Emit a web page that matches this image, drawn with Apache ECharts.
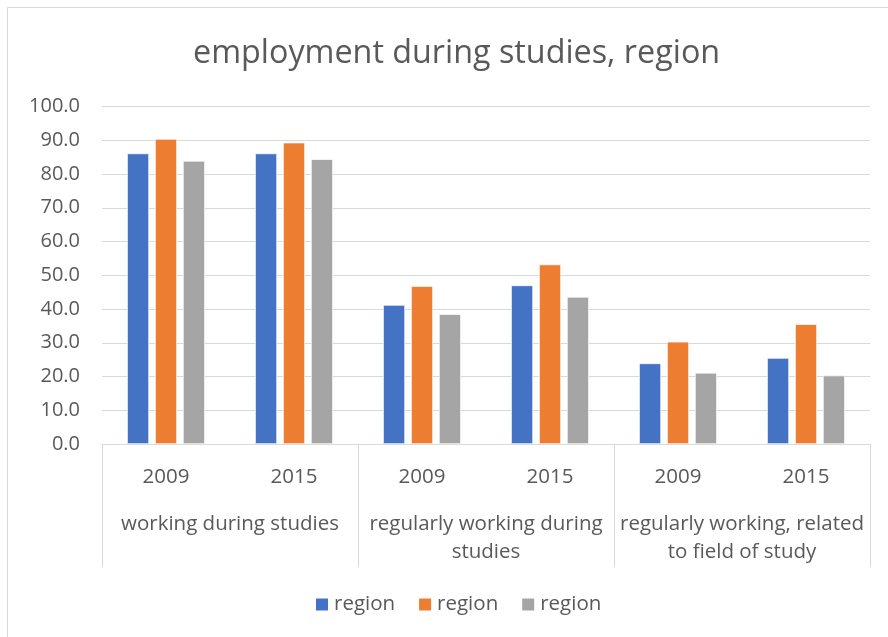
<!DOCTYPE html>
<html>
<head>
<meta charset="utf-8">
<script src="https://cdn.jsdelivr.net/npm/echarts@6/dist/echarts.min.js"></script>
<style>
html,body{margin:0;padding:0;background:#fff;}
#chart{width:888px;height:637px;}
</style>
</head>
<body>
<div id="chart"></div>
<script>
const years = ['2009', '2015', '2009', '2015', '2009', '2015'];
const groups = ['working during studies', 'regularly working during\nstudies', 'regularly working, related\nto field of study'];
const seriesNames = ['region', 'region', 'region'];
const seriesA = [86.1, 86.1, 41.2, 47.0, 23.9, 25.5];
const seriesB = [90.4, 89.3, 46.8, 53.2, 30.3, 35.5];
const seriesC = [83.9, 84.4, 38.5, 43.6, 21.1, 20.3];
const colors = ['#4472C4', '#ED7D31', '#A5A5A5'];
const yTicks = { min: 0, max: 100, interval: 10 };

const FONT = 'Open Sans';
const TXT = '#595959';
const chart = echarts.init(document.getElementById('chart'));
// distinct internal keys so the legend shows three entries all labelled "region"
const keys = seriesNames.map((n, i) => n + ' '.repeat(i));
const mk = (name, data, color) => ({
  name: name, type: 'bar', data: data, barWidth: 22, barGap: '27%',
  itemStyle: { color: color, borderColor: '#fff', borderWidth: 0.7 },
  xAxisIndex: 0
});
chart.setOption({
  animation: false,
  color: colors,
  textStyle: { fontFamily: FONT },
  graphic: [{
    type: 'rect', shape: { x: 7.5, y: 7.5, width: 900, height: 700 },
    style: { fill: 'none', stroke: '#D9D9D9', lineWidth: 1 }, silent: true, z: -1
  }],
  title: {
    text: 'employment during studies, region', left: 188, top: 33,
    textStyle: { fontFamily: FONT, fontSize: 32.3, fontWeight: 'normal', color: TXT }
  },
  legend: {
    bottom: 17, left: 309, itemWidth: 14, itemHeight: 14, itemGap: 22,
    icon: 'rect',
    textStyle: { fontFamily: FONT, fontSize: 20.5, color: TXT },
    data: keys,
    formatter: n => n.trim()
  },
  grid: { left: 102, right: 18, top: 106.5, bottom: 193, containLabel: false },
  xAxis: [{
    type: 'category', data: years, position: 'bottom',
    axisLine: { show: true, lineStyle: { color: '#D9D9D9', width: 1 } },
    axisTick: { show: false },
    axisLabel: { fontFamily: FONT, fontSize: 20.5, color: TXT, margin: 23, interval: 0 }
  }, {
    type: 'category', data: groups, position: 'bottom',
    axisLine: { show: false },
    axisTick: { show: true, interval: 0, length: 123, lineStyle: { color: '#D9D9D9', width: 1 } },
    axisLabel: { fontFamily: FONT, fontSize: 20.5, color: TXT, margin: 66, lineHeight: 28, verticalAlign: 'top', interval: 0 }
  }],
  yAxis: {
    type: 'value', min: yTicks.min, max: yTicks.max, interval: yTicks.interval,
    axisLine: { show: false }, axisTick: { show: false },
    splitLine: { lineStyle: { color: '#D9D9D9', width: 1 } },
    axisLabel: { fontFamily: FONT, fontSize: 20, color: TXT, margin: 22, formatter: v => v.toFixed(1) }
  },
  series: [mk(keys[0], seriesA, colors[0]), mk(keys[1], seriesB, colors[1]), mk(keys[2], seriesC, colors[2])]
});
</script>
</body>
</html>
